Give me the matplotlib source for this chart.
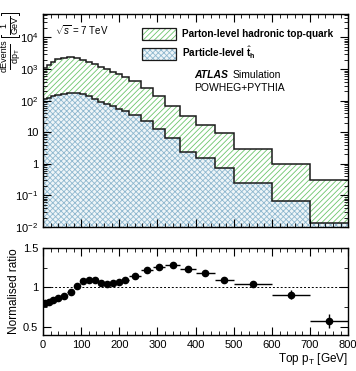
import numpy as np
import matplotlib
matplotlib.use("Agg")
import matplotlib.pyplot as plt
from matplotlib.patches import Patch
from matplotlib.lines import Line2D
from matplotlib.legend_handler import HandlerTuple
from matplotlib.ticker import FixedLocator, FuncFormatter, MultipleLocator

plt.rcParams['font.family'] = ['Liberation Sans', 'DejaVu Sans']
plt.rcParams['mathtext.fontset'] = 'custom'
plt.rcParams['mathtext.rm'] = 'Liberation Sans'
plt.rcParams['mathtext.bf'] = 'Liberation Sans:bold'
plt.rcParams['mathtext.it'] = 'Liberation Sans:italic'
plt.rcParams['hatch.linewidth'] = 0.6

# bin edges in GeV
edges = [0, 10, 20, 32, 48, 64, 80, 96, 112, 128, 144, 160, 176, 192, 208, 224,
         256, 288, 320, 360, 400, 450, 500, 600, 700, 800]

# parton-level hadronic top quark, dEvents/dpT [1/GeV]
parton = [1070, 1350, 1700, 2040, 2290, 2340, 2240, 2000, 1700, 1440, 1200, 1000,
          830, 690, 570, 420, 250, 140, 70, 32, 17, 9.3, 3.0, 1.0, 0.30]

# particle-level pseudo-top
particle = [110, 126, 141, 151, 162, 174, 178, 164, 136, 112, 94, 79,
            66, 55, 47, 36, 22, 13, 6.5, 2.45, 1.5, 0.75, 0.245, 0.068, 0.013]

# normalised ratio and its uncertainty
ratio = [0.81, 0.82, 0.84, 0.87, 0.89, 0.94, 1.02, 1.08, 1.10, 1.09, 1.05, 1.045,
         1.06, 1.075, 1.10, 1.15, 1.22, 1.26, 1.28, 1.23, 1.18, 1.10, 1.04, 0.91, 0.575]
ratio_err = [0.01, 0.01, 0.01, 0.01, 0.01, 0.01, 0.01, 0.01, 0.01, 0.01, 0.01, 0.01,
             0.01, 0.01, 0.01, 0.01, 0.01, 0.01, 0.01, 0.015, 0.015, 0.02, 0.025, 0.06, 0.09]

edges = np.array(edges, dtype=float)
centres = 0.5 * (edges[1:] + edges[:-1])
half_w = 0.5 * (edges[1:] - edges[:-1])

green = '#6cc56c'
blue = '#8fb8cf'
blue_bg = '#eef5f8'

W, H = 356, 371
fig = plt.figure(figsize=(W / 100, H / 100), dpi=100)
ax = fig.add_axes([0.121, 0.388, 0.857, 0.574])
axr = fig.add_axes([0.121, 0.097, 0.857, 0.235])

# top panel
ax.stairs(parton, edges, baseline=1e-3, fill=True, facecolor='white',
          edgecolor=green, hatch='//////', linewidth=0)
ax.stairs(particle, edges, baseline=1e-3, fill=True, facecolor=blue_bg,
          edgecolor=blue, hatch='xxxxxx', linewidth=0)
ax.stairs(parton, edges, baseline=None, color='#1a1a1a', linewidth=1.1)
ax.stairs(particle, edges, baseline=None, color='#1a1a1a', linewidth=1.1)

ax.set_yscale('log')
ax.set_xlim(0, 800)
ax.set_ylim(1e-2, 5.5e4)


def log_fmt(v, pos):
    e = int(round(np.log10(v)))
    if e == 0:
        return '1'
    if e == 1:
        return '10'
    return r'$10^{%d}$' % e


ax.yaxis.set_major_locator(FixedLocator([1e-2, 1e-1, 1, 10, 1e2, 1e3, 1e4]))
ax.yaxis.set_major_formatter(FuncFormatter(log_fmt))
ax.xaxis.set_major_locator(MultipleLocator(100))
ax.xaxis.set_minor_locator(MultipleLocator(20))
ax.tick_params(labelbottom=False)

for a in (ax, axr):
    a.tick_params(which='both', direction='in', top=True, right=True, labelsize=8)
    a.tick_params(which='major', length=6, width=0.8)
    a.tick_params(which='minor', length=3, width=0.6)
    for s in a.spines.values():
        s.set_linewidth(1.0)


# y label of the top panel, built ROOT-style: dEvents/dpT [1/GeV]
def fx(px):
    return px / W


def fy(py):
    return 1 - py / H


def ftext(px, py, s):
    fig.text(fx(px), fy(py), s, rotation=90, fontsize=6.5, ha='center', va='center')


def fline(xs, ys):
    fig.add_artist(Line2D([fx(v) for v in xs], [fy(v) for v in ys],
                          color='black', linewidth=0.7))


ftext(4, 56, 'dEvents')
fline([9.5, 9.5], [44, 69])
ftext(15.5, 56, r'dp$_\mathrm{T}$')
ftext(4, 25, '1')
fline([9.5, 9.5], [16, 34])
ftext(15.5, 25, 'GeV')
fline([0.8, 0.8, 19, 19], [35, 37, 37, 35])
fline([0.8, 0.8, 19, 19], [15, 13, 13, 15])

handles = [(Patch(facecolor='white', edgecolor=green, hatch='//////', linewidth=0),
            Patch(facecolor='none', edgecolor='#1a1a1a', linewidth=0.9)),
           (Patch(facecolor=blue_bg, edgecolor=blue, hatch='xxxxxx', linewidth=0),
            Patch(facecolor='none', edgecolor='#1a1a1a', linewidth=0.9))]
ax.legend(handles, ['Parton-level hadronic top-quark',
                    r'Particle-level $\hat{\mathbf{t}}_\mathbf{h}$'],
          handler_map={tuple: HandlerTuple(ndivide=1, pad=0)},
          loc='upper left', bbox_to_anchor=(0.31, 0.955), frameon=False,
          prop={'weight': 'bold', 'size': 7.2}, handlelength=3.4, handleheight=1.5,
          handletextpad=0.6, labelspacing=0.45, borderaxespad=0)

ax.text(0.04, 0.925, r'$\sqrt{s}$ = 7 TeV', transform=ax.transAxes, fontsize=7, va='center')
ax.text(0.495, 0.715, 'ATLAS', transform=ax.transAxes, fontsize=7.5,
        fontweight='bold', fontstyle='italic', va='center')
ax.text(0.62, 0.715, 'Simulation', transform=ax.transAxes, fontsize=7.5, va='center')
ax.text(0.495, 0.655, 'POWHEG+PYTHIA', transform=ax.transAxes, fontsize=7.5, va='center')

# ratio panel
axr.errorbar(centres, ratio, xerr=half_w, yerr=ratio_err, fmt='o', color='black',
             markersize=4.5, elinewidth=1.0, capsize=0)
axr.axhline(1.0, color='black', linestyle=(0, (2, 2)), linewidth=0.7)
axr.set_xlim(0, 800)
axr.set_ylim(0.4, 1.5)
axr.xaxis.set_major_locator(MultipleLocator(100))
axr.xaxis.set_minor_locator(MultipleLocator(20))
axr.yaxis.set_major_locator(FixedLocator([0.5, 1.0, 1.5]))
axr.yaxis.set_minor_locator(MultipleLocator(0.25))
axr.yaxis.set_major_formatter(FuncFormatter(lambda v, p: '%g' % v))
axr.set_ylabel('Normalised ratio', fontsize=8.5, labelpad=2)
axr.set_xlabel(r'Top p$_\mathrm{T}$ [GeV]', fontsize=8.5, loc='right', labelpad=1)

fig.savefig('out.png', dpi=100)
